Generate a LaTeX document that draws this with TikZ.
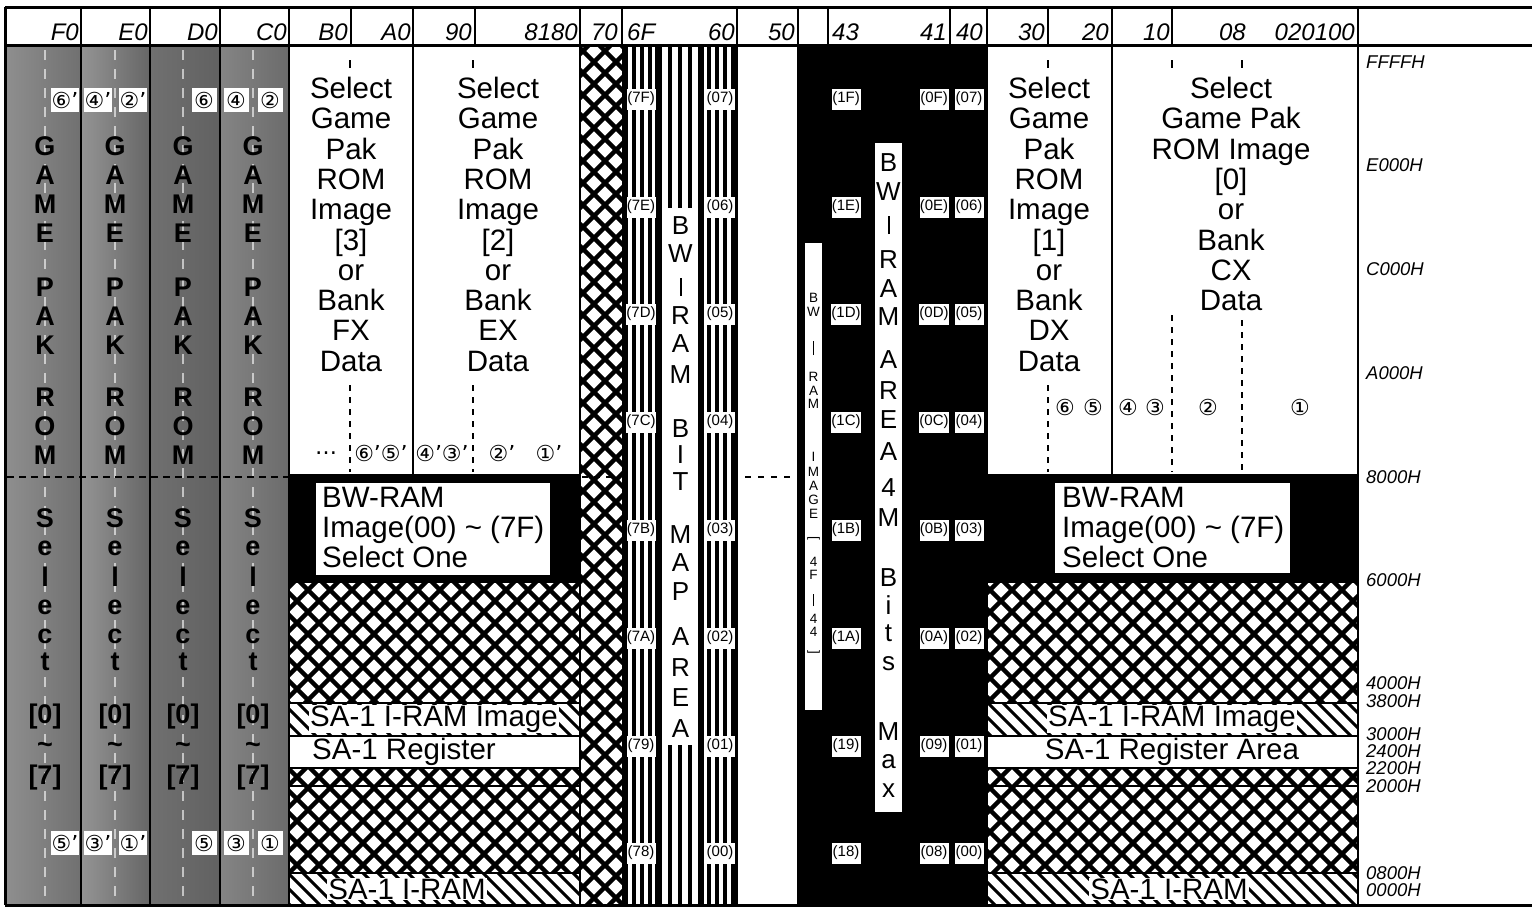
\documentclass[tikz,border=0pt]{standalone}
\usepackage{fontspec}
\setmainfont{Liberation Sans}
\newfontfamily\circfont{DejaVu Sans}
\begin{document}
\begin{tikzpicture}[x=1pt,y=-1pt]
\tikzset{
  hdr/.style={font=\fontsize{24}{24}\selectfont\itshape, anchor=base east, inner sep=0pt},
  hdrw/.style={hdr, anchor=base west},
  addr/.style={font=\fontsize{18.5}{18.5}\selectfont\itshape, anchor=west, inner sep=0pt},
  bigtxt/.style={font=\fontsize{29.5}{30.3}\selectfont, align=center, inner sep=0pt, anchor=north},
  boxtxt/.style={font=\fontsize{29.5}{30}\selectfont, align=left, inner sep=0pt, anchor=north west},
  bandtxt/.style={font=\fontsize{29.5}{30}\selectfont, inner sep=1pt},
  vlet/.style={font=\fontsize{26}{26}\selectfont, inner sep=0pt},
  glet/.style={font=\fontsize{27}{27}\selectfont\bfseries, inner sep=0pt},
  slet/.style={font=\fontsize{13.5}{13.5}\selectfont, inner sep=0pt},
  hexlbl/.style={font=\fontsize{15}{15}\selectfont, fill=white, inner sep=0pt, minimum width=29pt, minimum height=21pt},
  circlbl/.style={font=\circfont\fontsize{22}{22}\selectfont, inner sep=0pt},
  cbox/.style={circlbl, fill=white, minimum height=24pt, minimum width=25pt, inner xsep=1pt},
  seprule/.style={line width=2pt},
  heavyrule/.style={line width=3pt},
  dashv/.style={line width=2pt, dash pattern=on 6pt off 6pt},
}
\useasboundingbox (0,0) rectangle (1532,908);
\fill[white] (0,0) rectangle (1532,908);

% ---------- gray ROM columns ----------
\shade[left color=black!44, right color=black!56] (5,45) rectangle (81,905);
\shade[left color=black!42, right color=black!60] (81,45) rectangle (150,905);
\shade[left color=black!56, right color=black!62] (150,45) rectangle (220,905);
\shade[left color=black!48, right color=black!58] (220,45) rectangle (289,905);
\foreach \cx in {45,115,183,253}
  \draw[white, line width=1.5pt, dash pattern=on 10pt off 9pt, opacity=.6] (\cx,50) -- (\cx,900);

% ---------- black areas ----------
\fill[black] (798,45) rectangle (987,905);
\fill[black] (289,475) rectangle (580,582);
\fill[black] (987,475) rectangle (1358,582);

% ---------- crosshatch ----------
\begin{scope}
\clip (289,582) rectangle (580,703) (289,768) rectangle (580,873) (580,45) rectangle (622,905)
      (987,582) rectangle (1358,703) (987,768) rectangle (1358,873);
\fill[white] (0,0) rectangle (1532,908);
\foreach \k in {-42,...,104} {
  \draw[line width=4.5pt] (\k*22,40) -- ++(870,870);
  \draw[line width=4.5pt] (\k*22,40) -- ++(-870,870);
}
\end{scope}

% ---------- diagonal hatch ----------
\begin{scope}
\clip (289,703) rectangle (580,736) (289,873) rectangle (580,905)
      (987,703) rectangle (1358,736) (987,873) rectangle (1358,905);
\fill[white] (0,0) rectangle (1532,908);
\foreach \k in {0,...,95}
  \draw[line width=3pt] (\k*15,690) -- ++(230,230);
\end{scope}

% register bands
\draw[line width=2.5pt, fill=white] (289,736) rectangle (580,768);
\draw[line width=2.5pt, fill=white] (987,736) rectangle (1358,768);
\foreach \yy in {703,786,873} {
  \draw[line width=2.5pt] (289,\yy) -- (580,\yy);
  \draw[line width=2.5pt] (987,\yy) -- (1358,\yy);
}
\draw[line width=2.5pt] (289,582) -- (580,582);
\draw[line width=2.5pt] (987,582) -- (1358,582);

% ---------- stripes 6F..60 ----------
\fill (622,45) rectangle (628,905);
\fill (655,45) rectangle (662,905);
\fill (698,45) rectangle (704,905);
\fill (731,45) rectangle (737,905);
\foreach \bx in {632,640,647.5,668,678,688,707,715,723}
  \fill (\bx,45) rectangle (\bx+4,905);
\fill[white] (664,208) rectangle (697,745);

% ---------- white columns in black area ----------
\fill[white] (875,143) rectangle (902,812);
\fill[white] (805,243) rectangle (822,710);

% ---------- BW-RAM boxes ----------
\fill[white] (316,483) rectangle (550,575);
\fill[white] (1055,483) rectangle (1290,573);

% ---------- frame and separators ----------
\draw[heavyrule] (5,7) -- (1532,7);
\draw[heavyrule] (5,45) -- (1532,45);
\draw[heavyrule] (5,905) -- (1532,905);
\draw[heavyrule] (5,7) -- (5,905);
\foreach \sx in {81,150,220} \draw[seprule] (\sx,7) -- (\sx,905);
\foreach \sx in {289,580,737,798,987,1358} \draw[line width=2.5pt] (\sx,7) -- (\sx,905);
\foreach \sx in {351,475,622,828,950,1048,1172} \draw[seprule] (\sx,7) -- (\sx,45);
\draw[line width=2.5pt] (413,7) -- (413,475);
\draw[line width=2.5pt] (1112,7) -- (1112,475);
\draw[line width=2.5pt] (289,475) -- (580,475);
\draw[line width=2.5pt] (987,475) -- (1358,475);

% ticks and dashed guides
\foreach \tx in {350,473,1048,1172,1242} \draw[seprule] (\tx,60) -- (\tx,68);
\draw[dashv] (350,385) -- (350,472);
\draw[dashv] (473,385) -- (473,472);
\draw[dashv] (1048,385) -- (1048,472);
\draw[dashv] (1172,315) -- (1172,472);
\draw[dashv] (1242,320) -- (1242,472);

% 8000H dashed lines
\draw[line width=2.5pt, dash pattern=on 7pt off 5pt] (7,477) -- (289,477);
\draw[line width=2pt, dash pattern=on 6pt off 6pt] (582,477) -- (620,477);
\draw[line width=2pt, dash pattern=on 6pt off 7pt] (745,477) -- (796,477);

% ---------- header labels ----------
\foreach \lx/\lt in {79/F0,148/E0,218/D0,287/C0,348/B0,411/A0,472/90,578/8180,618/70,735/60,795/50,947/41,983/40,1045/30,1109/20,1170/10,1246/08,1355/020100}
  \node[hdr] (h\lt) at (\lx,40) {\lt};
\node[hdrw] (h6F) at (627,40) {6F};
\node[hdrw] (h43) at (832,40) {43};

% ---------- address labels ----------
\foreach \ay/\at in {62/FFFFH,165/E000H,269/C000H,373/A000H,477/8000H,580/6000H,683/4000H,701/3800H,734/3000H,751/2400H,768/2200H,786/2000H,873/0800H,890/0000H}
  \node[addr] (a\at) at (1366,\ay) {\at};

% ---------- gray column letters ----------
\foreach \cx in {45,115,183,253} {
  \foreach \t/\yy in {G/146,A/175,M/204,E/233,P/287,A/316,K/345,R/397,O/426,M/455,S/518,e/548,l/577,e/607,c/636,t/662,{[0]}/717,{\textasciitilde}/748,{[7]}/778}
    \node[glet] at (\cx,\yy) {\t};
}
% circled numbers in gray columns
\node[cbox] (c6p) at (65,100) {⑥’};
\node[cbox] (c4p) at (98,100) {④’};
\node[cbox] (c2p) at (133,100) {②’};
\node[cbox] (c6) at (204,100) {⑥};
\node[cbox] (c4) at (236,100) {④};
\node[cbox] (c2) at (270,100) {②};
\node[cbox] (c5p) at (65,843) {⑤’};
\node[cbox] (c3p) at (98,843) {③’};
\node[cbox] (c1p) at (133,843) {①’};
\node[cbox] (c5) at (204,843) {⑤};
\node[cbox] (c3) at (236,843) {③};
\node[cbox] (c1) at (270,843) {①};

% ---------- white region texts ----------
\node[bigtxt] (img3) at (351,77) {Select\\Game\\Pak\\ROM\\Image\\{[3]}\\or\\Bank\\FX\\Data};
\node[bigtxt] (img2) at (498,77) {Select\\Game\\Pak\\ROM\\Image\\{[2]}\\or\\Bank\\EX\\Data};
\node[bigtxt] (img1) at (1049,77) {Select\\Game\\Pak\\ROM\\Image\\{[1]}\\or\\Bank\\DX\\Data};
\node[bigtxt] (img0) at (1231,77) {Select\\Game Pak\\ROM Image\\{[0]}\\or\\Bank\\CX\\Data};

\node[circlbl] (ldots) at (326,453) {…};
\node[circlbl] (l65) at (381,453) {⑥’⑤’};
\node[circlbl] (l43) at (442,453) {④’③’};
\node[circlbl] (l2) at (502,453) {②’};
\node[circlbl] (l1) at (549,453) {①’};

\node[circlbl] (r6) at (1065,407) {⑥};
\node[circlbl] (r5) at (1093,407) {⑤};
\node[circlbl] (r4) at (1128,407) {④};
\node[circlbl] (r3) at (1155,407) {③};
\node[circlbl] (r2) at (1208,407) {②};
\node[circlbl] (r1) at (1300,407) {①};

% BW-RAM boxes
\node[boxtxt] (bwl) at (322,487) {BW-RAM\\Image(00) \textasciitilde{} (7F)\\Select One};
\node[boxtxt] (bwr) at (1062,487) {BW-RAM\\Image(00) \textasciitilde{} (7F)\\Select One};

% band texts
\node[bandtxt, fill=white] (iriml) at (434,719) {SA-1 I-RAM Image};
\node[bandtxt, fill=white] (irimr) at (1172,719) {SA-1 I-RAM Image};
\node[bandtxt, anchor=west] (regl) at (311,752) {SA-1 Register};
\node[bandtxt] (regr) at (1172,752) {SA-1 Register Area};
\node[bandtxt, fill=white] (iraml) at (407,889) {SA-1 I-RAM};
\node[bandtxt, fill=white] (iramr) at (1169,889) {SA-1 I-RAM};

% ---------- vertical texts ----------
\foreach \t/\yy in {B/226,W/254,{\rule{2pt}{18pt}}/287,R/316,A/344,M/375,B/429,I/455,T/482,M/535,A/563,P/592,A/637,R/668,E/698,A/729}
  \node[vlet] at (680.5,\yy) {\t};
\foreach \t/\yy in {B/163,W/192,{\rule{2pt}{18pt}}/225,R/260,A/289,M/317,A/360,R/391,E/420,A/452,4/488,M/518,B/578,i/605,t/633,s/664,M/732,a/762,x/791}
  \node[vlet] at (888.5,\yy) {\t};
\foreach \t/\yy in {B/298,W/312,{\rule{1.3pt}{14pt}}/348,R/377,A/391,M/404,I/457,M/472,A/486,G/500,E/514,4/562,F/575,{\rule{1.3pt}{12pt}}/600,4/619,4/632}
  \node[slet] at (813.5,\yy) {\t};
\node[slet, rotate=-90] (brl) at (813.5,538) {[};
\node[slet, rotate=-90] (brr) at (813.5,652) {]};

% ---------- hex labels ----------
\foreach \a/\b/\c/\d/\yy in {7F/1F/0F/07/99,7E/1E/0E/06/207,7D/1D/0D/05/314,7C/1C/0C/04/422,7B/1B/0B/03/530,7A/1A/0A/02/638,79/19/09/01/746,78/18/08/00/853} {
  \node[hexlbl] at (641,\yy) {(\a)};
  \node[hexlbl] at (720,\yy) {(\d)};
  \node[hexlbl] at (846,\yy) {(\b)};
  \node[hexlbl] at (934,\yy) {(\c)};
  \node[hexlbl] at (969,\yy) {(\d)};
}
\end{tikzpicture}
\end{document}
